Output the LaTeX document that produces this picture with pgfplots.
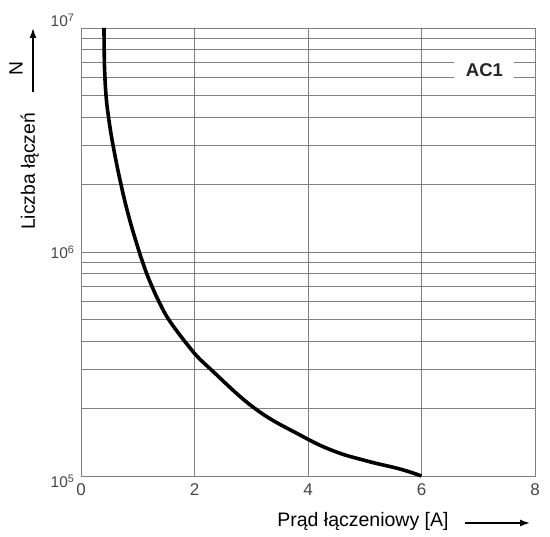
\documentclass[border=0pt]{standalone}
\usepackage{fontspec}
\setmainfont{Liberation Sans}
\usepackage{pgfplots}
\pgfplotsset{compat=1.18}
\usetikzlibrary{arrows.meta}
\definecolor{gridc}{RGB}{128,128,128}
\definecolor{tickc}{RGB}{70,70,70}
\begin{document}
\begin{tikzpicture}
\begin{axis}[
  name=main,
  scale only axis, width=454bp, height=448bp,
  xmin=0, xmax=8, ymin=1e5, ymax=1e7, ymode=log, log basis y=10,
  xtick={0,2,4,6,8},
  ytick={1e5,1e6,1e7},
  minor ytick={2e5,3e5,4e5,5e5,6e5,7e5,8e5,9e5,2e6,3e6,4e6,5e6,6e6,7e6,8e6,9e6},
  yticklabels={\raisebox{-5bp}[\height][\depth]{10\textsuperscript{5}},10\textsuperscript{6},\raisebox{7.5bp}[\height][\depth]{10\textsuperscript{7}}},
  xmajorgrids, ymajorgrids, yminorgrids,
  grid style={draw=gridc, line width=0.8bp},
  minor grid style={draw=gridc, line width=0.8bp},
  axis line style={draw=gridc, line width=0.8bp},
  major tick length=0pt, minor tick length=0pt,
  /pgf/number format/assume math mode=true,
  xticklabel style={font=\fontsize{17bp}{20bp}\selectfont, text=tickc, yshift=-4bp},
  yticklabel style={font=\fontsize{15.5bp}{18bp}\selectfont, text=tickc, xshift=-3bp},
  clip=false,
]
\addplot[black, line width=3.6bp, smooth, tension=0.7] coordinates {
  (0.405,1e7) (0.409,8e6) (0.416,6.5e6) (0.441,5e6) (0.485,4e6) (0.564,3e6)
  (0.705,2e6) (0.855,1.4e6) (1.027,1e6) (1.087,9e5) (1.158,8e5) (1.253,7e5)
  (1.374,6e5) (1.545,5e5) (1.824,4e5) (1.997,3.53e5) (2.282,3e5) (3.066,2e5)
  (3.859,1.524e5) (4.446,1.295e5) (5.035,1.167e5) (5.621,1.074e5) (6.0,1e5)
};
\node[fill=white, inner sep=0pt, minimum width=60bp, minimum height=38bp,
      font=\fontsize{18.5bp}{22bp}\selectfont\bfseries, text=black!85]
  at (axis cs:7.11,6.46e6) {AC1};
\end{axis}
\path[use as bounding box] ([xshift=-81bp,yshift=-61bp]main.south west) rectangle ([xshift=15bp,yshift=28bp]main.north east);
% y label
\node[rotate=90, anchor=base, font=\fontsize{19.3bp}{22bp}\selectfont, inner sep=0pt]
  at ([xshift=-46bp,yshift=304.5bp]main.south west) {Liczba łączeń};
\node[rotate=90, anchor=center, font=\fontsize{19.3bp}{22bp}\selectfont, inner sep=0pt]
  at ([xshift=-65bp,yshift=407.7bp]main.south west) {N};
\draw[line width=1.5bp, -{Latex[length=10bp,width=7bp]}]
  ([xshift=-48bp,yshift=384bp]main.south west) -- ([xshift=-48bp,yshift=448bp]main.south west);
% x label
\node[anchor=base, font=\fontsize{19.5bp}{22bp}\selectfont, inner sep=0pt]
  at ([xshift=282bp,yshift=-50bp]main.south west) {Prąd łączeniowy [A]};
\draw[line width=1.5bp, -{Latex[length=10bp,width=7bp]}]
  ([xshift=384bp,yshift=-47bp]main.south west) -- ([xshift=449bp,yshift=-47bp]main.south west);
\end{tikzpicture}
\end{document}
